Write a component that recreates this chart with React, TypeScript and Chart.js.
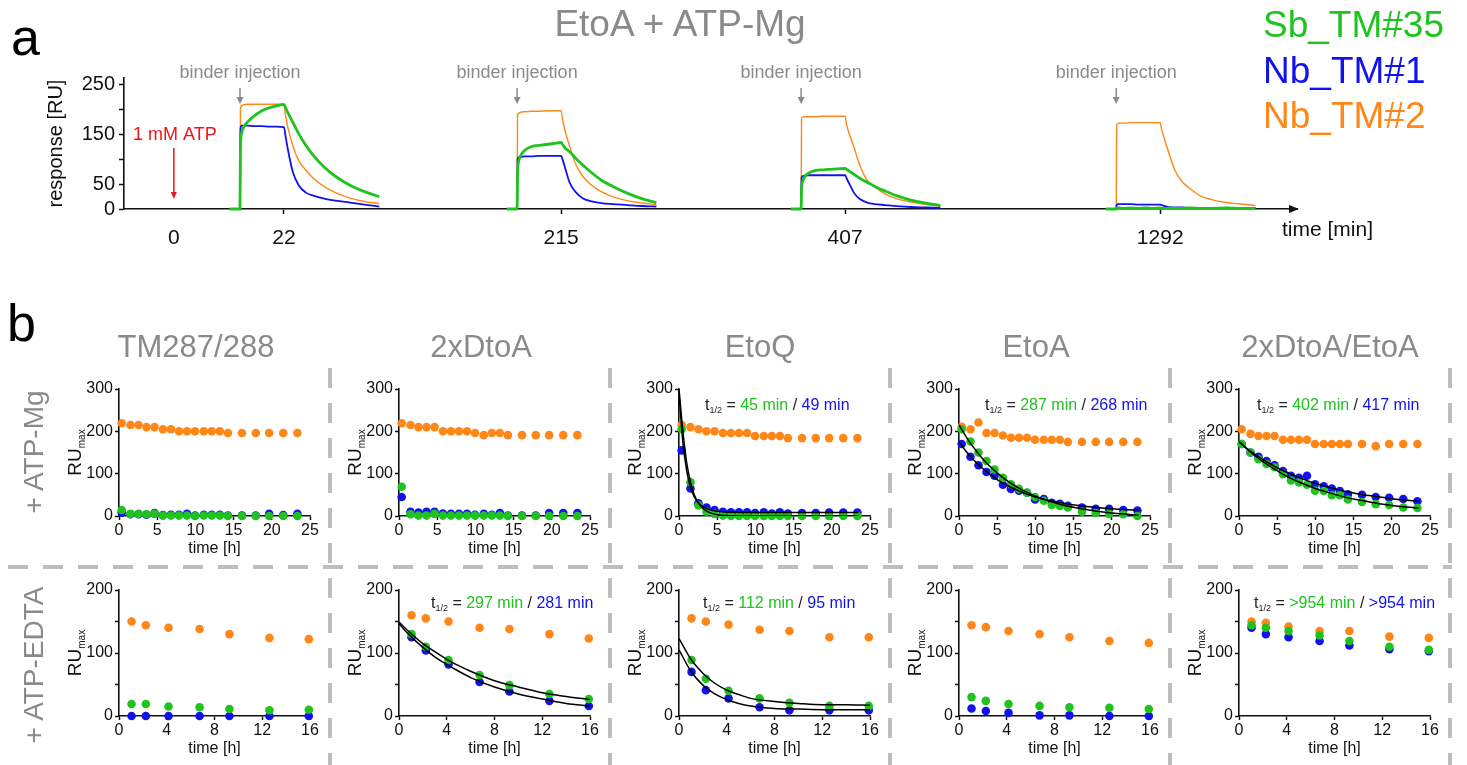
import React, { useEffect, useRef } from "react";
import { Chart, registerables } from "chart.js";

Chart.register(...registerables);

const FONT = "'Liberation Sans', Arial, Helvetica, sans-serif";
Chart.defaults.font.family = FONT;

const GREEN = "#1ec31e";
const BLUE = "#1212ee";
const ORANGE = "#ff8718";
const GRAY = "#8a8a8a";
const INK = "#111111";
const RED = "#f01414";
const DASH = "#bdbdbd";

// ---------------- Panel a : sensorgram ----------------
const panelATitle = "EtoA + ATP-Mg";
const seriesNames = ["Sb_TM#35", "Nb_TM#1", "Nb_TM#2"];
const seriesColors = [GREEN, BLUE, ORANGE];
const atpLabel = "1 mM ATP";
const injectionLabel = "binder injection";
const atpTickLabel = "0";
const cycleTickLabels = ["22", "215", "407", "1292"];
const atpPosition = 340; // display axis (s)
const cycleOffsets = [791, 2681, 4618, 6767]; // injection start on display axis (s)
const dissociationStart = 300; // local s
const axisAMax = 8000;
const yAMax = 264;
const yTicksA = [0, 50, 100, 150, 200, 250];
const yLabelsA = [0, 50, 150, 250];

const localTime = [-70, 0, 3, 10, 25, 50, 100, 150, 200, 250, 300, 310, 330, 360, 400, 450, 500, 575, 650, 750, 850, 950];

const sgGreen1 = [0, 0, 120, 152, 165, 175, 188, 198, 204, 208, 211, 205, 192, 175, 152, 128, 108, 84, 66, 48, 35, 25];
const sgBlue1 = [0, 0, 160, 168, 168, 168, 167, 167, 166, 166, 165, 148, 115, 75, 48, 33, 27, 21, 17, 13, 9, 5];
const sgOrange1 = [0, 0, 200, 208, 210, 211, 211, 211, 211, 211, 211, 190, 160, 128, 98, 78, 62, 45, 33, 22, 15, 11];

const sgGreen2 = [0, 0, 70, 95, 108, 118, 126, 128, 130, 132, 134, 130, 122, 115, 102, 88, 75, 58, 46, 32, 21, 13];
const sgBlue2 = [0, 0, 100, 104, 105, 106, 106, 107, 107, 107, 107, 100, 80, 52, 34, 21, 16, 12, 10, 8, 6, 5];
const sgOrange2 = [0, 0, 190, 193, 195, 196, 197, 197, 198, 198, 198, 180, 155, 125, 90, 65, 50, 35, 25, 17, 12, 9];

const sgGreen3 = [0, 0, 40, 55, 65, 72, 78, 79, 80, 81, 82, 80, 76, 70, 62, 54, 46, 36, 27, 18, 12, 7];
const sgBlue3 = [0, 0, 62, 66, 67, 68, 68, 68, 68, 68, 68, 62, 50, 33, 20, 13, 10, 8, 6, 4, 3, 2];
const sgOrange3 = [0, 0, 182, 185, 186, 186, 186, 187, 187, 187, 187, 170, 150, 125, 88, 58, 45, 30, 21, 14, 9, 6];

const sgGreen4 = [0, 0, 1, 2, 2, 1, 2, 1, 2, 1, 2, 1, 1, 2, 1, 1, 2, 1, 1, 2, 1, 1];
const sgBlue4 = [0, 0, 8, 10, 10, 10, 10, 9, 9, 9, 9, 8, 6, 4, 3, 3, 2, 2, 2, 2, 2, 2];
const sgOrange4 = [0, 0, 168, 172, 173, 173, 174, 174, 174, 174, 174, 160, 140, 112, 78, 55, 42, 26, 19, 13, 10, 7];

const sgGreen = [sgGreen1, sgGreen2, sgGreen3, sgGreen4];
const sgBlue = [sgBlue1, sgBlue2, sgBlue3, sgBlue4];
const sgOrange = [sgOrange1, sgOrange2, sgOrange3, sgOrange4];

// ---------------- Panel b : RUmax over time ----------------
const columnTitles = ["TM287/288", "2xDtoA", "EtoQ", "EtoA", "2xDtoA/EtoA"];
const rowLabels = ["+ ATP-Mg", "+ ATP-EDTA"];

const timesMg = [0.35, 1.5, 2.55, 3.6, 4.65, 5.75, 6.8, 7.85, 8.9, 9.95, 11.1, 12.15, 13.2, 14.25, 16.1, 17.9, 19.65, 21.5, 23.35];
const timesEdta = [1.05, 2.25, 4.15, 6.75, 9.25, 12.6, 15.9];
const fitTimesMg = [0, 0.5, 1, 1.5, 2, 2.5, 3, 4, 5, 6, 8, 10, 12, 14, 16, 18, 20, 22, 23.5];
const fitTimesEdta = [0, 1, 2, 3, 4, 5, 6, 8, 10, 12, 14, 16];
const xTicksMg = [0, 5, 10, 15, 20, 25];
const xTicksEdta = [0, 4, 8, 12, 16];
const yTicksMg = [0, 100, 200, 300];
const yLabelsMg = [0, 100, 200, 300];
const yTicksEdta = [0, 50, 100, 150, 200];
const yLabelsEdta = [0, 100, 200];

// + ATP-Mg
const tmMgOrange = [219, 215, 215, 210, 210, 205, 205, 200, 200, 200, 200, 200, 200, 196, 196, 196, 196, 196, 196];
const tmMgGreen = [14, 5, 5, 4, 5, 1, 1, 1, 1, 0, 1, 1, 1, 0, 0, 0, 0, 0, 0];
const tmMgBlue = [8, 4, 4, 3, 7, 2, 3, 3, 5, 1, 3, 3, 3, 1, 1, 1, 5, 2, 5];

const dtMgOrange = [219, 215, 210, 210, 210, 200, 200, 200, 200, 196, 191, 196, 196, 191, 191, 191, 191, 191, 191];
const dtMgGreen = [69, 4, 1, 1, 5, 1, 1, 1, 1, 1, 1, 1, 1, 0, 0, 0, 0, 0, 0];
const dtMgBlue = [45, 10, 8, 10, 10, 6, 5, 5, 5, 3, 5, 3, 7, 1, 1, 1, 7, 7, 7];

const eqMgOrange = [215, 210, 205, 200, 200, 196, 196, 196, 196, 189, 189, 189, 189, 184, 184, 184, 184, 184, 184];
const eqMgGreen = [205, 80, 25, 10, 5, 1, 0, 0, 0, 0, 0, 0, 0, 0, 0, 0, 0, 0, 0];
const eqMgBlue = [155, 65, 30, 20, 14, 10, 9, 9, 9, 7, 9, 6, 9, 6, 7, 7, 8, 8, 8];
const eqMgFitGreen = [300, 202, 127, 80, 50, 32, 20, 8, 3, 1, 0, 0, 0, 0, 0, 0, 0, 0, 0];
const eqMgFitBlue = [290, 175, 108, 68, 45, 32, 24, 15, 11, 9.5, 8.5, 8, 8, 8, 8, 8, 8, 8, 8];

const eaMgOrange = [211, 205, 221, 196, 196, 190, 185, 185, 185, 180, 180, 180, 180, 175, 175, 175, 175, 175, 175];
const eaMgGreen = [205, 176, 150, 130, 110, 90, 75, 64, 55, 45, 36, 26, 24, 20, 10, 7, 5, 4, 0];
const eaMgBlue = [170, 140, 120, 104, 95, 74, 64, 60, 55, 39, 40, 31, 29, 24, 20, 17, 17, 14, 13];
const eaMgFitGreen = [215, 200, 185, 172, 160, 148, 137, 118, 102, 87, 64, 47, 34, 24, 17, 11, 7, 4, 2];
const eaMgFitBlue = [175, 163, 151, 141, 131, 122, 114, 99, 86, 75, 58, 45, 36, 29, 24, 20, 17, 15, 14];

const deMgOrange = [205, 194, 189, 189, 189, 180, 180, 180, 180, 170, 170, 170, 170, 170, 170, 165, 170, 170, 170];
const deMgGreen = [170, 150, 134, 123, 115, 99, 84, 79, 74, 60, 59, 49, 49, 39, 33, 28, 26, 20, 19];
const deMgBlue = [170, 150, 140, 130, 120, 106, 95, 90, 95, 75, 70, 65, 59, 51, 50, 45, 43, 40, 35];
const deMgFitGreen = [176, 168, 159, 151, 144, 137, 130, 118, 107, 96, 79, 65, 54, 44, 37, 30, 25, 21, 19];
const deMgFitBlue = [175, 167, 160, 153, 147, 141, 135, 124, 114, 105, 90, 77, 67, 58, 51, 46, 41, 37, 35];

// + ATP-EDTA
const tmEdOrange = [150, 144, 140, 138, 130, 124, 122];
const tmEdGreen = [19, 19, 15, 14, 11, 9, 10];
const tmEdBlue = [0, 0, 0, 0, 0, 0, 0];

const dtEdOrange = [160, 155, 150, 140, 138, 130, 123];
const dtEdGreen = [130, 110, 89, 65, 49, 35, 27];
const dtEdBlue = [125, 104, 82, 54, 39, 24, 16];
const dtEdFitGreen = [149, 131, 115, 102, 90, 80, 71, 56, 46, 37, 31, 26];
const dtEdFitBlue = [146, 126, 109, 94, 82, 71, 61, 46, 35, 27, 20, 16];

const eqEdOrange = [155, 150, 145, 137, 135, 125, 125];
const eqEdGreen = [89, 59, 40, 28, 21, 16, 16];
const eqEdBlue = [70, 41, 28, 14, 9, 9, 9];
const eqEdFitGreen = [123, 90, 68, 52, 41, 34, 28, 23, 20, 18, 18, 17];
const eqEdFitBlue = [105, 71, 49, 35, 26, 20, 16, 12, 11, 10, 10, 10];

const eaEdOrange = [144, 141, 135, 130, 125, 119, 116];
const eaEdGreen = [30, 24, 19, 16, 14, 13, 11];
const eaEdBlue = [12, 8, 5, 1, 1, 0, 0];

const deEdOrange = [150, 148, 142, 135, 135, 126, 124];
const deEdGreen = [144, 140, 135, 128, 119, 110, 105];
const deEdBlue = [140, 130, 125, 119, 112, 106, 103];

// half-life annotations
const halfLifeGreen = ["45 min", "287 min", "402 min", "297 min", "112 min", ">954 min"];
const halfLifeBlue = ["49 min", "268 min", "417 min", "281 min", "95 min", ">954 min"];

type Note = { dx: number; dy: number; green: string; blue: string };
type PanelSpec = {
  col: number;
  row: number;
  times: number[];
  orange: number[];
  green: number[];
  blue: number[];
  fitGreen?: number[];
  fitBlue?: number[];
  note?: Note;
};

const ROWS = [
  { plotTop: 389, plotH: 127, xMax: 25, xTicks: xTicksMg, yMax: 300, yTicks: yTicksMg, yLabels: yLabelsMg, fitTimes: fitTimesMg },
  { plotTop: 590, plotH: 126, xMax: 16, xTicks: xTicksEdta, yMax: 200, yTicks: yTicksEdta, yLabels: yLabelsEdta, fitTimes: fitTimesEdta },
];

const panels: PanelSpec[] = [
  { col: 0, row: 0, times: timesMg, orange: tmMgOrange, green: tmMgGreen, blue: tmMgBlue },
  { col: 1, row: 0, times: timesMg, orange: dtMgOrange, green: dtMgGreen, blue: dtMgBlue },
  { col: 2, row: 0, times: timesMg, orange: eqMgOrange, green: eqMgGreen, blue: eqMgBlue, fitGreen: eqMgFitGreen, fitBlue: eqMgFitBlue, note: { dx: 26, dy: 21, green: halfLifeGreen[0], blue: halfLifeBlue[0] } },
  { col: 3, row: 0, times: timesMg, orange: eaMgOrange, green: eaMgGreen, blue: eaMgBlue, fitGreen: eaMgFitGreen, fitBlue: eaMgFitBlue, note: { dx: 26, dy: 21, green: halfLifeGreen[1], blue: halfLifeBlue[1] } },
  { col: 4, row: 0, times: timesMg, orange: deMgOrange, green: deMgGreen, blue: deMgBlue, fitGreen: deMgFitGreen, fitBlue: deMgFitBlue, note: { dx: 18, dy: 21, green: halfLifeGreen[2], blue: halfLifeBlue[2] } },
  { col: 0, row: 1, times: timesEdta, orange: tmEdOrange, green: tmEdGreen, blue: tmEdBlue },
  { col: 1, row: 1, times: timesEdta, orange: dtEdOrange, green: dtEdGreen, blue: dtEdBlue, fitGreen: dtEdFitGreen, fitBlue: dtEdFitBlue, note: { dx: 32, dy: 18, green: halfLifeGreen[3], blue: halfLifeBlue[3] } },
  { col: 2, row: 1, times: timesEdta, orange: eqEdOrange, green: eqEdGreen, blue: eqEdBlue, fitGreen: eqEdFitGreen, fitBlue: eqEdFitBlue, note: { dx: 24, dy: 18, green: halfLifeGreen[4], blue: halfLifeBlue[4] } },
  { col: 3, row: 1, times: timesEdta, orange: eaEdOrange, green: eaEdGreen, blue: eaEdBlue },
  { col: 4, row: 1, times: timesEdta, orange: deEdOrange, green: deEdGreen, blue: deEdBlue, note: { dx: 15, dy: 18, green: halfLifeGreen[5], blue: halfLifeBlue[5] } },
];

const xy = (xs: number[], ys: number[]) => xs.map((x, i) => ({ x, y: ys[i] }));

function axisCommon(extra: any) {
  return {
    type: "linear",
    grid: { display: true, drawOnChartArea: false, drawTicks: true, tickLength: 4, tickWidth: 1.5, tickColor: INK },
    border: { display: true, color: INK, width: 1.6 },
    ...extra,
  };
}

function SensorgramChart() {
  const ref = useRef<HTMLCanvasElement>(null);
  const W = 1467;
  const H = 260;
  useEffect(() => {
    const datasets: any[] = [];
    cycleOffsets.forEach((off, c) => {
      const xs = localTime.map((t) => off + t);
      const mk = (ys: number[], color: string, w: number) => ({
        data: xy(xs, ys),
        showLine: true,
        borderColor: color,
        backgroundColor: color,
        borderWidth: w,
        pointRadius: 0,
        cubicInterpolationMode: "monotone",
        clip: false,
      });
      datasets.push(mk(sgGreen[c], GREEN, 2.8));
      datasets.push(mk(sgBlue[c], BLUE, 1.8));
      datasets.push(mk(sgOrange[c], ORANGE, 1.4));
    });
    const xTickValues = [atpPosition, ...cycleOffsets.map((o) => o + dissociationStart)];
    const xTickLabels = [atpTickLabel, ...cycleTickLabels];
    const decor = {
      id: "decorA",
      afterDraw(chart: any) {
        const { ctx, chartArea: a, scales } = chart;
        const x = scales.x;
        ctx.save();
        // axis arrow
        ctx.fillStyle = INK;
        ctx.beginPath();
        ctx.moveTo(a.right + 2, a.bottom);
        ctx.lineTo(a.right - 8, a.bottom - 4);
        ctx.lineTo(a.right - 8, a.bottom + 4);
        ctx.closePath();
        ctx.fill();
        // axis titles
        ctx.font = `21px ${FONT}`;
        ctx.textAlign = "left";
        ctx.textBaseline = "alphabetic";
        ctx.fillText("time [min]", a.right - 15, a.bottom + 27);
        ctx.save();
        ctx.translate(62, (a.top + a.bottom) / 2);
        ctx.rotate(-Math.PI / 2);
        ctx.textAlign = "center";
        ctx.font = `20px ${FONT}`;
        ctx.fillText("response [RU]", 0, 0);
        ctx.restore();
        // injections
        cycleOffsets.forEach((off) => {
          const px = x.getPixelForValue(off);
          ctx.fillStyle = GRAY;
          ctx.strokeStyle = GRAY;
          ctx.font = `18px ${FONT}`;
          ctx.textAlign = "center";
          ctx.fillText(injectionLabel, px, a.top);
          ctx.lineWidth = 1.5;
          ctx.beginPath();
          ctx.moveTo(px, a.top + 10);
          ctx.lineTo(px, a.top + 20);
          ctx.stroke();
          ctx.beginPath();
          ctx.moveTo(px, a.top + 26);
          ctx.lineTo(px - 3.5, a.top + 19);
          ctx.lineTo(px + 3.5, a.top + 19);
          ctx.closePath();
          ctx.fill();
        });
        // ATP
        const ax = x.getPixelForValue(atpPosition);
        ctx.fillStyle = RED;
        ctx.strokeStyle = RED;
        ctx.font = `18px ${FONT}`;
        ctx.textAlign = "center";
        ctx.fillText(atpLabel, ax + 1, a.top + 62);
        ctx.lineWidth = 1.5;
        ctx.beginPath();
        ctx.moveTo(ax, a.top + 70);
        ctx.lineTo(ax, a.bottom - 16);
        ctx.stroke();
        ctx.beginPath();
        ctx.moveTo(ax, a.bottom - 10);
        ctx.lineTo(ax - 3, a.bottom - 17);
        ctx.lineTo(ax + 3, a.bottom - 17);
        ctx.closePath();
        ctx.fill();
        ctx.restore();
      },
    };
    const chart = new Chart(ref.current as HTMLCanvasElement, {
      type: "scatter",
      data: { datasets },
      options: {
        animation: false,
        responsive: false,
        maintainAspectRatio: false,
        events: [],
        layout: { padding: { left: 0, top: 78, right: W - 1297, bottom: 0 } },
        plugins: { legend: { display: false }, tooltip: { enabled: false } },
        scales: {
          x: axisCommon({
            min: 0,
            max: axisAMax,
            afterBuildTicks: (s: any) => {
              s.ticks = xTickValues.map((v) => ({ value: v }));
            },
            afterFit: (s: any) => {
              s.height = H - 209;
            },
            grid: {
              display: true,
              drawOnChartArea: false,
              drawTicks: true,
              tickLength: 5,
              tickWidth: 1.5,
              tickColor: (c: any) => (c.index === 0 ? "rgba(0,0,0,0)" : INK),
            },
            ticks: {
              autoSkip: false,
              maxRotation: 0,
              padding: 12,
              color: INK,
              font: { size: 21, family: FONT },
              callback: (_v: any, i: number) => xTickLabels[i],
            },
          }),
          y: axisCommon({
            min: 0,
            max: yAMax,
            afterBuildTicks: (s: any) => {
              s.ticks = yTicksA.map((v) => ({ value: v }));
            },
            afterFit: (s: any) => {
              s.width = 124;
            },
            grid: { display: true, drawOnChartArea: false, drawTicks: true, tickLength: 5, tickWidth: 1.5, tickColor: INK },
            ticks: {
              autoSkip: false,
              padding: 4,
              color: INK,
              font: { size: 20, family: FONT },
              callback: (v: any) => (yLabelsA.includes(v) ? String(v) : ""),
            },
          }),
        },
      } as any,
      plugins: [decor],
    } as any);
    return () => chart.destroy();
  }, []);
  return <canvas ref={ref} width={W} height={H} style={{ position: "absolute", left: 0, top: 0, width: W, height: H }} />;
}

function SmallChart({ spec }: { spec: PanelSpec }) {
  const ref = useRef<HTMLCanvasElement>(null);
  const g = ROWS[spec.row];
  const plotLeft = 119 + 280 * spec.col;
  const W = 275;
  const H = g.plotH + 58;
  useEffect(() => {
    const datasets: any[] = [];
    const fit = (ys: number[]) => ({
      data: xy(g.fitTimes, ys),
      showLine: true,
      borderColor: "#000",
      borderWidth: 1.5,
      pointRadius: 0,
      cubicInterpolationMode: "monotone",
    });
    const dots = (ys: number[], color: string) => ({
      data: xy(spec.times, ys),
      showLine: false,
      pointRadius: 4.3,
      pointBorderWidth: 0,
      backgroundColor: color,
      borderColor: color,
      clip: false,
    });
    if (spec.fitGreen) datasets.push(fit(spec.fitGreen));
    if (spec.fitBlue) datasets.push(fit(spec.fitBlue));
    datasets.push(dots(spec.green, GREEN));
    datasets.push(dots(spec.blue, BLUE));
    datasets.push(dots(spec.orange, ORANGE));
    const note = spec.note;
    const decor = {
      id: "decorB",
      afterDraw(chart: any) {
        const { ctx, chartArea: a } = chart;
        ctx.save();
        ctx.fillStyle = INK;
        ctx.textBaseline = "alphabetic";
        ctx.font = `16px ${FONT}`;
        ctx.textAlign = "center";
        ctx.fillText("time [h]", (a.left + a.right) / 2, a.bottom + 37);
        // RU_max
        ctx.save();
        ctx.translate(a.left - 38, (a.top + a.bottom) / 2);
        ctx.rotate(-Math.PI / 2);
        ctx.textAlign = "left";
        ctx.font = `19px ${FONT}`;
        const w1 = ctx.measureText("RU").width;
        ctx.font = `10px ${FONT}`;
        const w2 = ctx.measureText("max").width;
        const s = -(w1 + w2) / 2;
        ctx.font = `19px ${FONT}`;
        ctx.fillText("RU", s, 0);
        ctx.font = `10px ${FONT}`;
        ctx.fillText("max", s + w1, 3.5);
        ctx.restore();
        if (note) {
          let x = a.left + note.dx;
          const y = a.top + note.dy;
          const segs: [string, string, number, number][] = [
            ["t", "#222", 16, 0],
            ["1/2", "#222", 9, 3],
            [" = ", "#222", 16, 0],
            [note.green, GREEN, 16, 0],
            [" / ", "#222", 16, 0],
            [note.blue, BLUE, 16, 0],
          ];
          ctx.textAlign = "left";
          segs.forEach(([t, c, sz, dy]) => {
            ctx.font = `${sz}px ${FONT}`;
            ctx.fillStyle = c;
            ctx.fillText(t, x, y + dy);
            x += ctx.measureText(t).width;
          });
        }
        ctx.restore();
      },
    };
    const chart = new Chart(ref.current as HTMLCanvasElement, {
      type: "scatter",
      data: { datasets },
      options: {
        animation: false,
        responsive: false,
        maintainAspectRatio: false,
        events: [],
        layout: { padding: { left: 0, top: 12, right: 24, bottom: 0 } },
        plugins: { legend: { display: false }, tooltip: { enabled: false } },
        scales: {
          x: axisCommon({
            min: 0,
            max: g.xMax,
            afterBuildTicks: (s: any) => {
              s.ticks = g.xTicks.map((v) => ({ value: v }));
            },
            afterFit: (s: any) => {
              s.height = 46;
            },
            ticks: { autoSkip: false, maxRotation: 0, padding: 1, color: INK, font: { size: 16, family: FONT } },
          }),
          y: axisCommon({
            min: 0,
            max: g.yMax,
            afterBuildTicks: (s: any) => {
              s.ticks = g.yTicks.map((v) => ({ value: v }));
            },
            afterFit: (s: any) => {
              s.width = 60;
            },
            ticks: {
              autoSkip: false,
              padding: 2,
              color: INK,
              font: { size: 16, family: FONT },
              callback: (v: any) => (g.yLabels.includes(v) ? String(v) : ""),
            },
          }),
        },
      } as any,
      plugins: [decor],
    } as any);
    return () => chart.destroy();
  }, []);
  return (
    <canvas
      ref={ref}
      width={W}
      height={H}
      style={{ position: "absolute", left: plotLeft - 60, top: g.plotTop - 12, width: W, height: H }}
    />
  );
}

const legendBaselines = [37, 83, 128];
const titleCenters = [196, 481, 760, 1036, 1330];
const rowLabelCenters = [452, 665];
const dividerX = [330, 610, 890, 1170, 1450];

export default function App() {
  return (
    <div
      style={{
        position: "absolute",
        left: 0,
        top: 0,
        width: 1467,
        height: 765,
        background: "#fff",
        overflow: "hidden",
        fontFamily: FONT,
      }}
    >
      <SensorgramChart />
      {panels.map((p, i) => (
        <SmallChart key={i} spec={p} />
      ))}
      <svg
        width={1467}
        height={765}
        style={{ position: "absolute", left: 0, top: 0, pointerEvents: "none" }}
        fontFamily={FONT}
      >
        <text x={11} y={55} fontSize={52} fill="#000">a</text>
        <text x={680} y={36} fontSize={37} fill={GRAY} textAnchor="middle">{panelATitle}</text>
        {seriesNames.map((n, i) => (
          <text key={n} x={1263} y={legendBaselines[i]} fontSize={37} fill={seriesColors[i]}>
            {n}
          </text>
        ))}
        <text x={7} y={341} fontSize={52} fill="#000">b</text>
        {columnTitles.map((t, i) => (
          <text key={t} x={titleCenters[i]} y={357} fontSize={31} fill={GRAY} textAnchor="middle">
            {t}
          </text>
        ))}
        {rowLabels.map((t, i) => (
          <text
            key={t}
            transform={`translate(43, ${rowLabelCenters[i]}) rotate(-90)`}
            fontSize={28}
            fill={GRAY}
            textAnchor="middle"
          >
            {t}
          </text>
        ))}
        <line x1={8} y1={567} x2={1452} y2={567} stroke={DASH} strokeWidth={4} strokeDasharray="20 15" />
        {dividerX.map((x) => (
          <line key={x} x1={x} y1={368} x2={x} y2={765} stroke={DASH} strokeWidth={4} strokeDasharray="20 15" />
        ))}
      </svg>
    </div>
  );
}
